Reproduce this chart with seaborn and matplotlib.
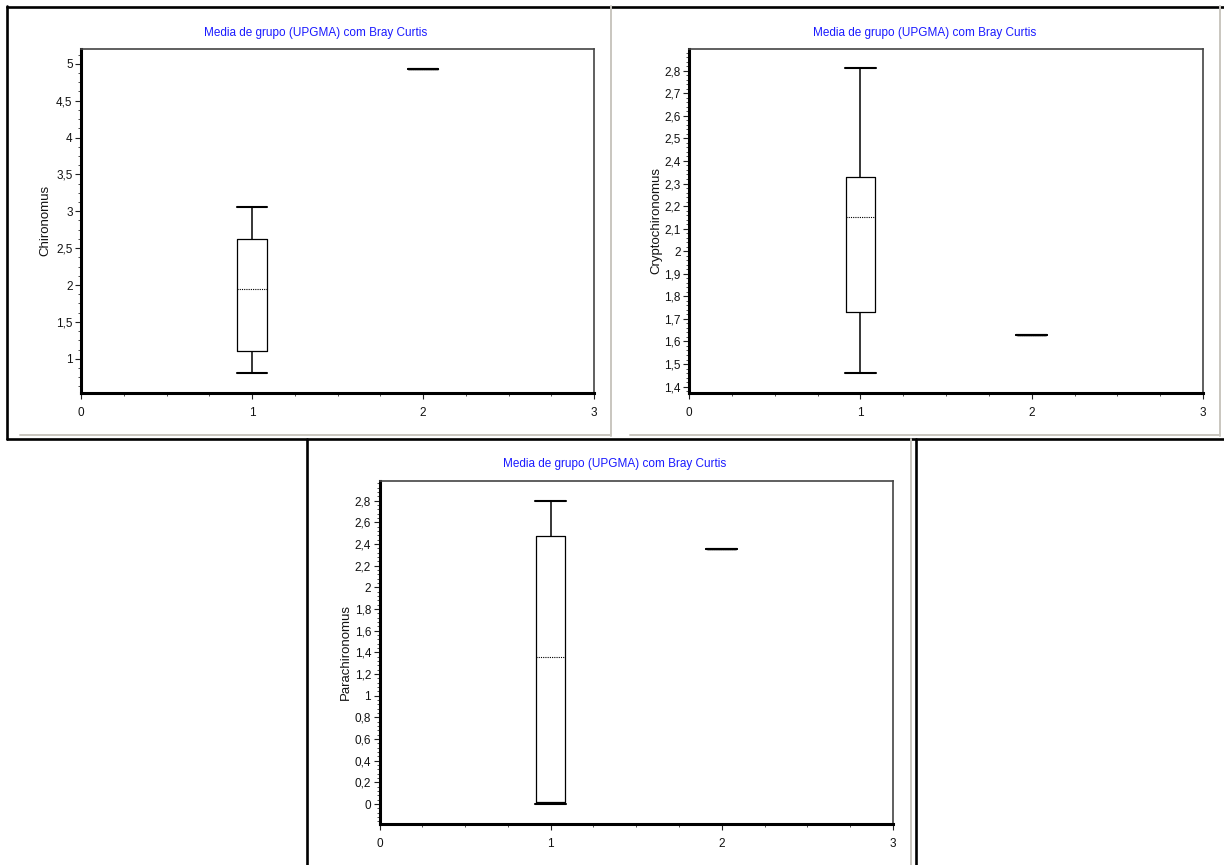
import numpy as np
import pandas as pd
import matplotlib
matplotlib.use("Agg")
import matplotlib.pyplot as plt
import seaborn as sns
from matplotlib.lines import Line2D
from matplotlib.ticker import MultipleLocator, AutoMinorLocator, FuncFormatter

# ---------------- data (five-number summaries) ----------------
title_text = "Media de grupo (UPGMA) com Bray Curtis"
grupos = [1, 2]
x_ticks = [0, 1, 2, 3]

chironomus_g1 = [0.81, 1.10, 1.94, 2.62, 3.06]
chironomus_g2 = [4.93]
cryptochironomus_g1 = [1.46, 1.73, 2.15, 2.33, 2.81]
cryptochironomus_g2 = [1.63]
parachironomus_g1 = [0.00, 0.02, 1.36, 2.47, 2.80]
parachironomus_g2 = [2.35]

# ---------------- style ----------------
sns.set_theme(style="white")
plt.rcParams["font.family"] = ["Liberation Sans Narrow", "Liberation Sans", "DejaVu Sans"]

W, H = 1224, 865
fig = plt.figure(figsize=(W / 100, H / 100), dpi=100)
fig.patch.set_facecolor("white")


def px(x, y):
    return x / W, 1 - y / H


def comma(v, pos):
    s = f"{round(v, 6):.6g}"
    return s.replace(".", ",")


def panel(rect_px, name, g1, g2, ylim, major, minor_n, title_xy, label_x):
    l, t, r, b = rect_px
    ax = fig.add_axes([l / W, 1 - b / H, (r - l) / W, (b - t) / H])
    df = pd.DataFrame({
        "grupo": [grupos[0]] * len(g1) + [grupos[1]] * len(g2),
        name: list(g1) + list(g2),
    })
    sns.boxplot(
        data=df, x="grupo", y=name, native_scale=True, width=0.17,
        fill=False, color="black", linecolor="black", whis=np.inf,
        linewidth=0.9, ax=ax,
        medianprops=dict(linestyle=(0, (1, 1)), linewidth=0.8, color="black"),
        capprops=dict(linewidth=1.5, color="black"),
        whiskerprops=dict(linewidth=1.1, color="black"),
        capwidths=0.18,
    )
    ax.set_xlim(x_ticks[0], x_ticks[-1])
    ax.set_ylim(*ylim)
    ax.set_xticks(x_ticks)
    ax.set_xticklabels([str(v) for v in x_ticks])
    ax.xaxis.set_minor_locator(MultipleLocator(0.25))
    ax.yaxis.set_major_locator(MultipleLocator(major))
    ax.yaxis.set_minor_locator(AutoMinorLocator(minor_n))
    ax.yaxis.set_major_formatter(FuncFormatter(comma))
    ax.tick_params(axis="both", which="major", direction="out", length=4, width=0.8,
                   colors="#222222", labelsize=8.5, labelcolor="#111111", bottom=True, left=True)
    ax.tick_params(axis="x", which="major", pad=6)
    ax.tick_params(axis="y", which="major", pad=2)
    ax.tick_params(axis="both", which="minor", direction="out", length=2, width=0.6,
                   colors="#333333", bottom=True, left=True)
    ax.set_xlabel("")
    ax.set_ylabel(name, fontsize=9.5, color="#111111")
    ax.yaxis.set_label_coords((label_x - l) / (r - l), 0.5)
    for side in ("left", "bottom"):
        ax.spines[side].set_linewidth(2.2)
        ax.spines[side].set_color("black")
    for side in ("top", "right"):
        ax.spines[side].set_linewidth(1.2)
        ax.spines[side].set_color("#444444")
        ax.spines[side].set_visible(True)
    tx, ty = px(*title_xy)
    fig.text(tx, ty, title_text, ha="center", va="center", color="#1a1aff", fontsize=8.5)
    return ax


panel((81, 49, 594, 392.7), "Chironomus", chironomus_g1, chironomus_g2,
      (0.54, 5.2), 0.5, 4, (316, 33), 51)
panel((689, 49, 1203, 392.7), "Cryptochironomus", cryptochironomus_g1, cryptochironomus_g2,
      (1.373, 2.896), 0.1, 5, (925, 33), 662)
panel((379.5, 480.7, 893, 824.3), "Parachironomus", parachironomus_g1, parachironomus_g2,
      (-0.187, 2.985), 0.2, 5, (615, 464), 352)

# ---------------- window frames ----------------
def hline(y, x0, x1, color, lw):
    a, b = px(x0, y)
    c, d = px(x1, y)
    fig.add_artist(Line2D([a, c], [b, d], transform=fig.transFigure, color=color, lw=lw))


def vline(x, y0, y1, color, lw):
    a, b = px(x, y0)
    c, d = px(x, y1)
    fig.add_artist(Line2D([a, c], [b, d], transform=fig.transFigure, color=color, lw=lw))


gray = "#c9c6bf"
hline(6.5, 7, 1224, "black", 1.9)
vline(7, 6, 439, "black", 1.9)
vline(611, 6, 436, gray, 1.4)
hline(435, 20, 611, gray, 1.4)
hline(435, 630, 1220, gray, 1.4)
vline(1220, 6, 436, gray, 1.4)
hline(439, 7, 1224, "black", 1.9)
vline(307, 439, 865, "black", 1.9)
vline(911, 439, 865, gray, 1.4)
vline(916, 439, 865, "black", 1.9)

fig.savefig("out.png", dpi=100, facecolor="white")
